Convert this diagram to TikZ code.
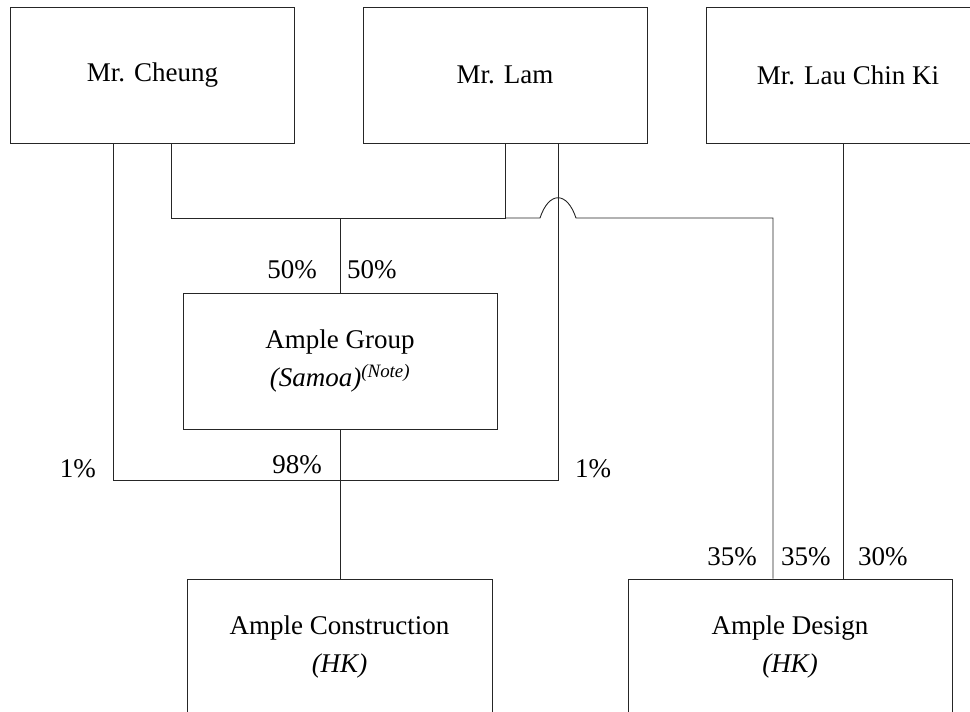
\documentclass[tikz,border=0pt]{standalone}
\usepackage{fontspec}
\setmainfont{Liberation Serif}
\tikzset{
  entity/.style={draw=black!85, line width=1pt, minimum width=284pt, minimum height=136pt,
    align=center, inner sep=0pt, font=\fontsize{27}{38}\selectfont},
  link/.style={draw=black!85, line width=0.9pt},
  pct/.style={inner sep=0pt, font=\fontsize{27}{32}\selectfont}
}
\begin{document}
\begin{tikzpicture}[x=1pt,y=-1pt]
		\useasboundingbox (0,0) rectangle (970,712);
		% owners
		\node[entity](cheung) at (152.5,75){Mr. Cheung};
		\node[entity](lam) at (505,75){Mr. Lam};
		\node[entity](lau) at (848,75){Mr. Lau Chin Ki};
		% companies
		\node[entity, minimum width=314pt](group) at (340,361){Ample Group\\ \textit{(Samoa)}\textsuperscript{\textit{(Note)}}};
		\node[entity, minimum width=305pt](constr) at (339.5,647){Ample Construction\\ \textit{(HK)}};
		\node[entity, minimum width=324pt](design) at (790,647){Ample Design\\ \textit{(HK)}};
		\coordinate(upper) at (group.north |- 0,218);
		\coordinate(lower) at (group.south |- 0,480);
		% links
		\draw[link]([xshift=18.5pt]cheung.south) |- (upper);
		\draw[link](lam.south) |- (upper);
		\draw[link](upper) -- (group.north);
		\draw[link](lam.south |- upper) -- (540,218) .. controls (549,191) and (567,191) .. (576,218) -| ([xshift=-17pt]design.north);
		\draw[link]([xshift=-39.5pt]cheung.south) |- (lower);
		\draw[link]([xshift=53pt]lam.south) |- (lower);
		\draw[link](group.south) -- (group.south |- constr.north);
		\draw[link]([xshift=-5pt]lau.south) -- ([xshift=-5pt]lau.south |- design.north);
		% shares
		\node[pct, anchor=east](s1) at (317,270){50\%};
		\node[pct, anchor=west](s2) at (347,270){50\%};
		\node[pct, anchor=east](s3) at (96,469){1\%};
		\node[pct, anchor=east](s4) at (322,465){98\%};
		\node[pct, anchor=west](s5) at (575,469){1\%};
		\node[pct, anchor=east](s6) at (757,557){35\%};
		\node[pct, anchor=west](s7) at (781,557){35\%};
		\node[pct, anchor=west](s8) at (858,557){30\%};
\end{tikzpicture}
\end{document}
